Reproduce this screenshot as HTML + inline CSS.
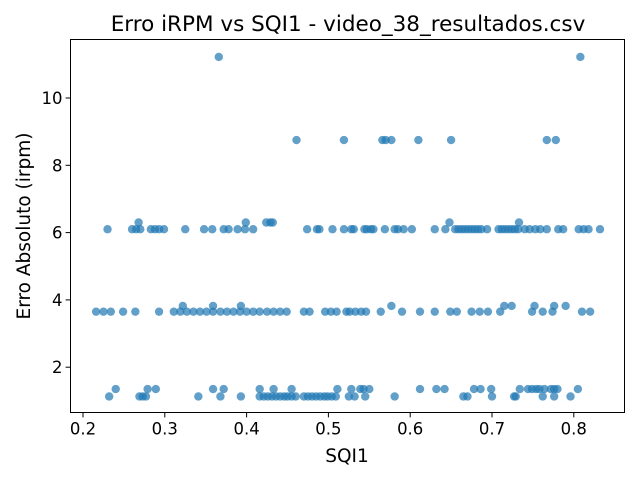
<!DOCTYPE html>
<html><head><meta charset="utf-8"><style>
html,body{margin:0;padding:0;background:#fff;}
svg{display:block;font-family:"DejaVu Sans","Liberation Sans",sans-serif;}
</style></head><body>
<svg id="chart" width="640" height="480" viewBox="0 0 640 480">
<rect x="0" y="0" width="640" height="480" fill="#fff"/>
<text x="348" y="31" text-anchor="middle" font-size="21.5" fill="#000">Erro iRPM vs SQI1 - video_38_resultados.csv</text>
<g id="points"></g>
<g id="axes"></g>
<text x="347" y="462" text-anchor="middle" font-size="18.5">SQI1</text>
<text transform="translate(30,226) rotate(-90)" text-anchor="middle" font-size="18.5">Erro Absoluto (irpm)</text>
</svg>
<script>
const xTicks = [0.2,0.3,0.4,0.5,0.6,0.7,0.8];
const xTickLabels = ["0.2","0.3","0.4","0.5","0.6","0.7","0.8"];
const yTicks = [2,4,6,8,10];
const yTickLabels = ["2","4","6","8","10"];
const sqiBand6 = [0.230,0.260,0.265,0.270,0.283,0.288,0.293,0.299,0.325,0.348,0.358,0.372,0.378,0.389,0.398,0.408,0.474,0.486,0.489,0.505,0.519,0.528,0.531,0.544,0.547,0.552,0.555,0.569,0.581,0.585,0.592,0.602,0.630,0.643,0.655,0.659,0.663,0.667,0.671,0.675,0.679,0.683,0.687,0.694,0.708,0.712,0.716,0.720,0.724,0.728,0.732,0.740,0.746,0.753,0.759,0.767,0.781,0.787,0.806,0.812,0.818,0.832];
const sqiBand63 = [0.268,0.399,0.424,0.429,0.432,0.648,0.733];
const sqiBand365 = [0.216,0.225,0.234,0.249,0.264,0.293,0.311,0.319,0.327,0.335,0.343,0.351,0.359,0.368,0.376,0.384,0.392,0.400,0.408,0.416,0.425,0.433,0.441,0.449,0.470,0.477,0.496,0.503,0.510,0.522,0.526,0.533,0.540,0.546,0.564,0.590,0.612,0.630,0.649,0.657,0.675,0.685,0.695,0.710,0.749,0.762,0.774,0.810,0.820];
const sqiBand382 = [0.322,0.359,0.393,0.577,0.715,0.724,0.752,0.776,0.790];
const sqiBand113 = [0.232,0.269,0.273,0.277,0.341,0.368,0.393,0.416,0.421,0.426,0.431,0.436,0.441,0.446,0.450,0.455,0.460,0.470,0.475,0.480,0.485,0.490,0.495,0.499,0.504,0.509,0.525,0.532,0.545,0.581,0.665,0.670,0.700,0.727,0.729,0.762,0.776,0.796];
const sqiBand135 = [0.240,0.279,0.289,0.359,0.372,0.416,0.433,0.455,0.511,0.528,0.539,0.543,0.550,0.612,0.632,0.642,0.678,0.686,0.699,0.734,0.744,0.749,0.754,0.758,0.764,0.772,0.776,0.780,0.805];
const sqiBand875 = [0.461,0.519,0.566,0.570,0.577,0.610,0.650,0.767,0.778];
const sqiBand1122 = [0.366,0.808];
const bandErrors = [6.1,6.3,3.65,3.82,1.13,1.35,8.75,11.22];

const NS="http://www.w3.org/2000/svg";
const X=v=>83+(v-0.2)*818;
const Y=v=>434.5-33.65*v;
const L=70.5,R=624.5,T=39.5,B=412.5;
const pts=document.getElementById('points');
const bands=[sqiBand6,sqiBand63,sqiBand365,sqiBand382,sqiBand113,sqiBand135,sqiBand875,sqiBand1122];
bands.forEach((arr,bi)=>{arr.forEach(s=>{
  const c=document.createElementNS(NS,'circle');
  c.setAttribute('cx',X(s));c.setAttribute('cy',Y(bandErrors[bi]));c.setAttribute('r',4.2);
  c.setAttribute('fill','#1f77b4');c.setAttribute('fill-opacity','0.7');
  
  
  pts.appendChild(c);
});});
const ax=document.getElementById('axes');
function mk(tag,attrs,txt){const e=document.createElementNS(NS,tag);for(const k in attrs)e.setAttribute(k,attrs[k]);if(txt!==undefined)e.textContent=txt;ax.appendChild(e);return e;}
const frame=mk('rect',{x:L,y:T,width:R-L,height:B-T,fill:'none',stroke:'#000','stroke-width':1});


xTicks.forEach((t,i)=>{
  const x=X(t);
  const ln=mk('line',{x1:x,x2:x,y1:B,y2:B+4.9,stroke:'#000'});
  
  
  const tx=mk('text',{x:x,y:B+22,'text-anchor':'middle','font-size':16.5},xTickLabels[i]);
  
  
});
yTicks.forEach((t,i)=>{
  const y=Y(t);
  const ln=mk('line',{x1:L-4.9,x2:L,y1:y,y2:y,stroke:'#000'});
  
  
  const tx=mk('text',{x:L-8,y:y+6,'text-anchor':'end','font-size':16.5},yTickLabels[i]);
  
  
});
</script>
</body></html>
